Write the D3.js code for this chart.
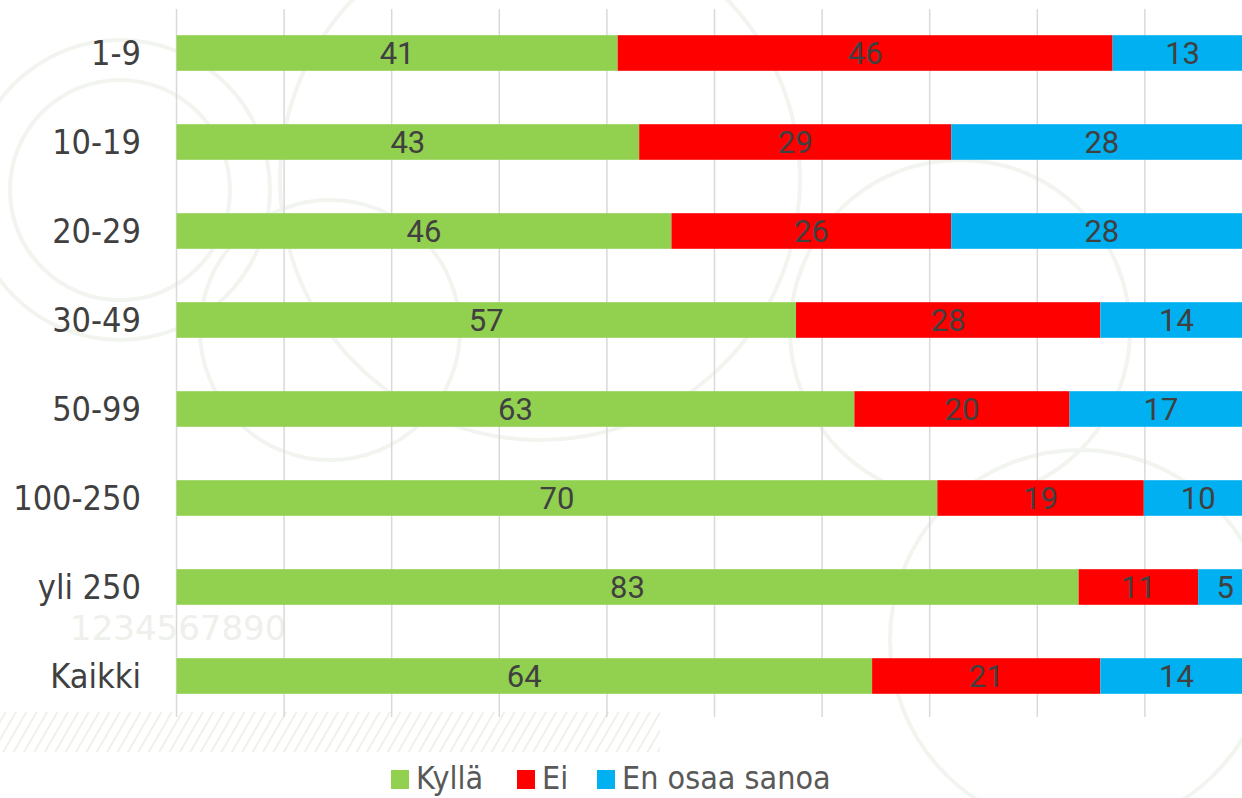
<!DOCTYPE html>
<html lang="fi">
<head>
  <meta charset="UTF-8" />
  <title>Kyllä / Ei / En osaa sanoa</title>
  <script src="https://d3js.org/d3.v7.min.js"></script>
  <style>
    html, body { margin: 0; padding: 0; background: #ffffff; }
    svg { display: block; }
    .cat { font-family: "DejaVu Sans Condensed", "DejaVu Sans", sans-serif; font-size: 34px; fill: #404040; }
    .val { font-family: Roboto, sans-serif; font-size: 31px; fill: #404040; }
    .legend text { font-family: "DejaVu Sans Condensed", "DejaVu Sans", sans-serif; font-size: 32px; fill: #595959; }
  </style>
</head>
<body>
  <svg width="1242" height="798"></svg>

  <script>
    const categories = ["1-9", "10-19", "20-29", "30-49", "50-99", "100-250", "yli 250", "Kaikki"];
    const kylla = [41, 43, 46, 57, 63, 70, 83, 64];
    const ei = [46, 29, 26, 28, 20, 19, 11, 21];
    const eos = [13, 28, 28, 14, 17, 10, 5, 14];
    const seriesNames = ["Kyllä", "Ei", "En osaa sanoa"];
    const seriesColors = ["#92D050", "#FF0000", "#00B0F0"];
    const xTicks = [0, 0.1, 0.2, 0.3, 0.4, 0.5, 0.6, 0.7, 0.8, 0.9, 1];

    const svg = d3.select("svg");

    // faint background decoration (watermark-like)
    const bg = svg.append("g").attr("class", "bg");
    const defs = svg.append("defs");
    defs.append("pattern")
      .attr("id", "hatch")
      .attr("width", 9).attr("height", 9)
      .attr("patternUnits", "userSpaceOnUse")
      .attr("patternTransform", "rotate(30)")
      .append("line")
      .attr("x1", 0).attr("y1", 0).attr("x2", 0).attr("y2", 9)
      .attr("stroke", "#e9eee3").attr("stroke-width", 3);
    bg.append("rect")
      .attr("x", 0).attr("y", 712).attr("width", 660).attr("height", 40)
      .attr("fill", "url(#hatch)");
    [[120, 190, 150], [120, 190, 110], [330, 330, 130], [960, 330, 170], [1080, 640, 190], [540, 180, 260]]
      .forEach(c => bg.append("circle")
        .attr("cx", c[0]).attr("cy", c[1]).attr("r", c[2])
        .attr("fill", "none").attr("stroke", "#f2f5ef").attr("stroke-width", 4));
    bg.append("text")
      .attr("x", 70).attr("y", 640)
      .style("font-family", "DejaVu Sans, sans-serif")
      .style("font-size", "34px")
      .style("fill", "#eef0ec")
      .text("1234567890");

    const x = d3.scaleLinear()
      .domain([0, 1])
      .range([176.5, 1252.5]);

    const y = d3.scaleBand()
      .domain(categories)
      .range([8.5, 720.5])
      .paddingInner(0.6)
      .paddingOuter(0.3);

    // vertical gridlines
    svg.append("g")
      .selectAll("line")
      .data(xTicks)
      .join("line")
      .attr("x1", d => x(d)).attr("x2", d => x(d))
      .attr("y1", 9).attr("y2", 717)
      .attr("stroke", "#d9d9d9")
      .attr("stroke-width", 1.5);

    // stack data (shares of 100 %, labels show rounded values)
    const rows = categories.map((c, i) => ({ cat: c, "Kyllä": kylla[i], "Ei": ei[i], "En osaa sanoa": eos[i] }));
    const stacked = d3.stack().keys(seriesNames).offset(d3.stackOffsetExpand)(rows);

    const layer = svg.append("g")
      .selectAll("g")
      .data(stacked)
      .join("g")
      .attr("fill", (d, i) => seriesColors[i]);

    layer.selectAll("rect")
      .data(d => d)
      .join("rect")
      .attr("x", d => x(d[0]))
      .attr("width", d => x(d[1]) - x(d[0]))
      .attr("y", d => y(d.data.cat))
      .attr("height", y.bandwidth());

    layer.selectAll("text")
      .data(d => d.map(v => ({ v, key: d.key })))
      .join("text")
      .attr("class", "val")
      .attr("x", d => (x(d.v[0]) + x(d.v[1])) / 2)
      .attr("y", d => y(d.v.data.cat) + y.bandwidth() / 2)
      .attr("dy", "0.36em")
      .attr("text-anchor", "middle")
      .text(d => d.v.data[d.key]);

    // category labels
    svg.append("g")
      .selectAll("text")
      .data(categories)
      .join("text")
      .attr("class", "cat")
      .attr("x", 141)
      .attr("y", d => y(d) + y.bandwidth() / 2)
      .attr("dy", "0.36em")
      .attr("text-anchor", "end")
      .text(d => d);

    // legend
    const legendX = [391, 517, 597];
    const legend = svg.append("g").attr("class", "legend");
    seriesNames.forEach((name, i) => {
      legend.append("rect")
        .attr("x", legendX[i]).attr("y", 770)
        .attr("width", 18).attr("height", 19)
        .attr("fill", seriesColors[i]);
      legend.append("text")
        .attr("x", legendX[i] + 25).attr("y", 789)
        .text(name);
    });
  </script>
</body>
</html>
